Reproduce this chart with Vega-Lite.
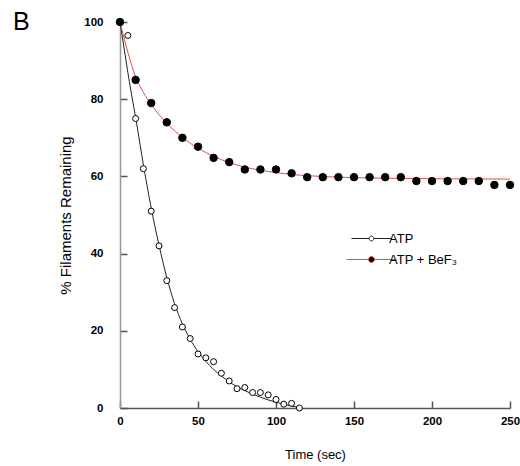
{
  "$schema": "https://vega.github.io/schema/vega-lite/v6.json",
  "width": 390,
  "height": 386,
  "autosize": {"type": "none"},
  "padding": {"left": 120, "top": 22, "right": 10, "bottom": 58},
  "background": "white",
  "title": {"text": "B", "anchor": "start", "frame": "group", "dx": -107, "offset": -19, "fontSize": 25, "fontWeight": "normal", "font": "Liberation Sans", "color": "#000"},
  "datasets": {
    "fit": [
      {"series": "ATP", "t": 0, "pct": 100}, {"series": "ATP", "t": 2.5, "pct": 93.5}, {"series": "ATP", "t": 5, "pct": 87}, {"series": "ATP", "t": 7.5, "pct": 81}, {"series": "ATP", "t": 10, "pct": 75.3}, {"series": "ATP", "t": 15, "pct": 63}, {"series": "ATP", "t": 20, "pct": 51.8}, {"series": "ATP", "t": 25, "pct": 42.2}, {"series": "ATP", "t": 30, "pct": 33.8}, {"series": "ATP", "t": 35, "pct": 27}, {"series": "ATP", "t": 40, "pct": 21.8}, {"series": "ATP", "t": 45, "pct": 17.8}, {"series": "ATP", "t": 50, "pct": 14.6}, {"series": "ATP", "t": 55, "pct": 12.1}, {"series": "ATP", "t": 60, "pct": 10}, {"series": "ATP", "t": 65, "pct": 8.3}, {"series": "ATP", "t": 70, "pct": 6.8}, {"series": "ATP", "t": 75, "pct": 5.5}, {"series": "ATP", "t": 80, "pct": 4.5}, {"series": "ATP", "t": 85, "pct": 3.6}, {"series": "ATP", "t": 90, "pct": 2.8}, {"series": "ATP", "t": 95, "pct": 2.1}, {"series": "ATP", "t": 100, "pct": 1.5}, {"series": "ATP", "t": 105, "pct": 1}, {"series": "ATP", "t": 110, "pct": 0.5}, {"series": "ATP", "t": 115, "pct": 0.1},
      {"series": "ATP + BeF₃", "t": 0, "pct": 100}, {"series": "ATP + BeF₃", "t": 5, "pct": 92.2}, {"series": "ATP + BeF₃", "t": 10, "pct": 85.8}, {"series": "ATP + BeF₃", "t": 15, "pct": 81.8}, {"series": "ATP + BeF₃", "t": 20, "pct": 78.6}, {"series": "ATP + BeF₃", "t": 25, "pct": 76}, {"series": "ATP + BeF₃", "t": 30, "pct": 73.8}, {"series": "ATP + BeF₃", "t": 35, "pct": 71.8}, {"series": "ATP + BeF₃", "t": 40, "pct": 70.1}, {"series": "ATP + BeF₃", "t": 45, "pct": 68.6}, {"series": "ATP + BeF₃", "t": 50, "pct": 67.3}, {"series": "ATP + BeF₃", "t": 55, "pct": 66.2}, {"series": "ATP + BeF₃", "t": 60, "pct": 65.2}, {"series": "ATP + BeF₃", "t": 70, "pct": 63.6}, {"series": "ATP + BeF₃", "t": 80, "pct": 62.4}, {"series": "ATP + BeF₃", "t": 90, "pct": 61.6}, {"series": "ATP + BeF₃", "t": 100, "pct": 61}, {"series": "ATP + BeF₃", "t": 110, "pct": 60.5}, {"series": "ATP + BeF₃", "t": 120, "pct": 60.2}, {"series": "ATP + BeF₃", "t": 140, "pct": 59.8}, {"series": "ATP + BeF₃", "t": 160, "pct": 59.6}, {"series": "ATP + BeF₃", "t": 200, "pct": 59.4}, {"series": "ATP + BeF₃", "t": 250, "pct": 59.3}
    ],
    "obs": [
      {"series": "ATP", "t": 0, "pct": 100}, {"series": "ATP", "t": 5, "pct": 96.5}, {"series": "ATP", "t": 10, "pct": 75}, {"series": "ATP", "t": 15, "pct": 62}, {"series": "ATP", "t": 20, "pct": 51}, {"series": "ATP", "t": 25, "pct": 42}, {"series": "ATP", "t": 30, "pct": 33}, {"series": "ATP", "t": 35, "pct": 26}, {"series": "ATP", "t": 40, "pct": 21}, {"series": "ATP", "t": 45, "pct": 18}, {"series": "ATP", "t": 50, "pct": 14}, {"series": "ATP", "t": 55, "pct": 13}, {"series": "ATP", "t": 60, "pct": 12}, {"series": "ATP", "t": 65, "pct": 9}, {"series": "ATP", "t": 70, "pct": 7}, {"series": "ATP", "t": 75, "pct": 5}, {"series": "ATP", "t": 80, "pct": 5.3}, {"series": "ATP", "t": 85, "pct": 4}, {"series": "ATP", "t": 90, "pct": 4}, {"series": "ATP", "t": 95, "pct": 3.4}, {"series": "ATP", "t": 100, "pct": 2.2}, {"series": "ATP", "t": 105, "pct": 1}, {"series": "ATP", "t": 110, "pct": 1.2}, {"series": "ATP", "t": 115, "pct": 0},
      {"series": "ATP + BeF₃", "t": 0, "pct": 100}, {"series": "ATP + BeF₃", "t": 10, "pct": 85}, {"series": "ATP + BeF₃", "t": 20, "pct": 79}, {"series": "ATP + BeF₃", "t": 30, "pct": 74}, {"series": "ATP + BeF₃", "t": 40, "pct": 70}, {"series": "ATP + BeF₃", "t": 50, "pct": 67.7}, {"series": "ATP + BeF₃", "t": 60, "pct": 64.8}, {"series": "ATP + BeF₃", "t": 70, "pct": 63.7}, {"series": "ATP + BeF₃", "t": 80, "pct": 61.8}, {"series": "ATP + BeF₃", "t": 90, "pct": 61.8}, {"series": "ATP + BeF₃", "t": 100, "pct": 61.8}, {"series": "ATP + BeF₃", "t": 110, "pct": 60.8}, {"series": "ATP + BeF₃", "t": 120, "pct": 59.8}, {"series": "ATP + BeF₃", "t": 130, "pct": 59.8}, {"series": "ATP + BeF₃", "t": 140, "pct": 59.8}, {"series": "ATP + BeF₃", "t": 150, "pct": 59.8}, {"series": "ATP + BeF₃", "t": 160, "pct": 59.8}, {"series": "ATP + BeF₃", "t": 170, "pct": 59.8}, {"series": "ATP + BeF₃", "t": 180, "pct": 59.8}, {"series": "ATP + BeF₃", "t": 190, "pct": 58.8}, {"series": "ATP + BeF₃", "t": 200, "pct": 58.8}, {"series": "ATP + BeF₃", "t": 210, "pct": 58.8}, {"series": "ATP + BeF₃", "t": 220, "pct": 58.8}, {"series": "ATP + BeF₃", "t": 230, "pct": 58.8}, {"series": "ATP + BeF₃", "t": 240, "pct": 57.8}, {"series": "ATP + BeF₃", "t": 250, "pct": 57.8}
    ]
  },
  "config": {
    "view": {"stroke": null},
    "font": "Liberation Sans",
    "axis": {"grid": false, "labelFont": "Liberation Sans", "titleFont": "Liberation Sans", "labelColor": "#000", "titleColor": "#000", "labelFontWeight": "bold", "labelFontSize": 11.5, "titleFontWeight": "normal", "domainWidth": 1.5}
  },
  "layer": [
    {
      "data": {"name": "fit"},
      "mark": {"type": "line", "interpolate": "monotone", "strokeWidth": 1},
      "encoding": {
        "x": {"field": "t", "type": "quantitative", "scale": {"domain": [0, 250], "nice": false, "zero": false},
          "axis": {"title": "Time (sec)", "titleFontSize": 13, "titlePadding": 22, "values": [0, 50, 100, 150, 200, 250], "ticks": true, "tickSize": -7, "tickWidth": 1.5, "tickColor": "#555", "labelPadding": 14, "domainColor": "#555", "labelFlush": false}},
        "y": {"field": "pct", "type": "quantitative", "scale": {"domain": [0, 100], "nice": false},
          "axis": {"title": "% Filaments Remaining", "titleFontSize": 15, "titlePadding": 10, "values": [0, 20, 40, 60, 80, 100], "ticks": true, "tickSize": -7, "tickWidth": 1.5, "tickColor": "#555", "labelPadding": 24, "domainColor": "#999"}},
        "color": {"field": "series", "type": "nominal", "scale": {"domain": ["ATP", "ATP + BeF₃"], "range": ["#222222", "#e0504a"]},
          "legend": {"title": null, "orient": "none", "legendX": 245, "legendY": 210, "labelFontSize": 13, "labelFont": "Liberation Sans", "labelColor": "#000", "rowPadding": 7, "labelOffset": 11,
            "symbolType": "M-6.67,0L-0.8,0M0.8,0L6.67,0M-0.8,0A0.8,0.8 0 1,0 0.8,0A0.8,0.8 0 1,0 -0.8,0Z",
            "symbolSize": 36, "symbolStrokeWidth": 1,
            "encode": {"symbols": {"update": {
              "size": {"value": 36},
              "fill": {"signal": "datum.value === 'ATP' ? 'white' : 'black'"},
              "fillOpacity": {"value": 1}, "strokeOpacity": {"value": 1}}}}}}
      }
    },
    {
      "data": {"name": "obs"},
      "mark": {"type": "point", "shape": "circle", "strokeWidth": 1, "opacity": 1, "stroke": "#000"},
      "encoding": {
        "x": {"field": "t", "type": "quantitative"},
        "y": {"field": "pct", "type": "quantitative"},
        "fill": {"field": "series", "type": "nominal", "scale": {"domain": ["ATP", "ATP + BeF₃"], "range": ["white", "black"]}, "legend": null},
        "size": {"field": "series", "type": "nominal", "scale": {"domain": ["ATP", "ATP + BeF₃"], "range": [36, 56]}, "legend": null}
      }
    }
  ]
}
